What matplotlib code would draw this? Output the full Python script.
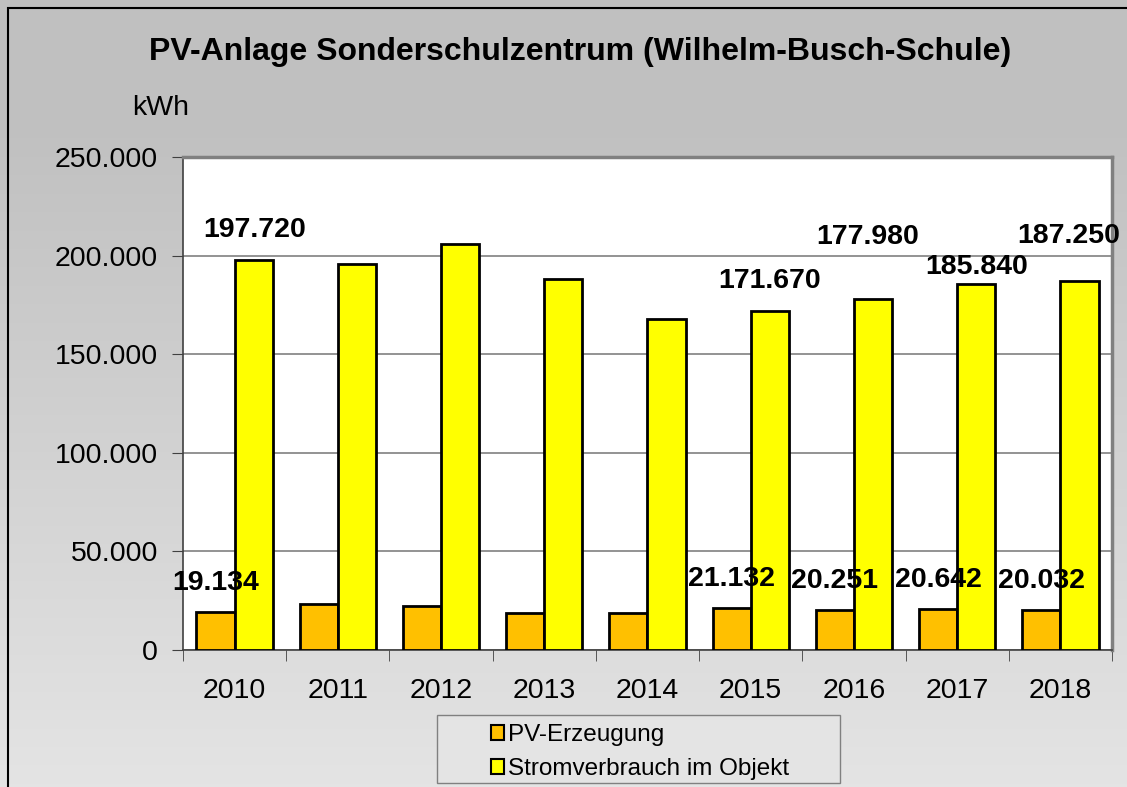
import matplotlib.pyplot as plt
import numpy as np
from matplotlib.patches import Rectangle

plt.rcParams['font.family'] = ['Liberation Sans', 'DejaVu Sans']

years = ['2010', '2011', '2012', '2013', '2014', '2015', '2016', '2017', '2018']
pv = [19134, 23300, 22400, 18600, 19000, 21132, 20251, 20642, 20032]
strom = [197720, 195500, 206000, 188000, 168000, 171670, 177980, 185840, 187250]
pv_labels = ['19.134', None, None, None, None, '21.132', '20.251', '20.642', '20.032']
strom_labels = ['197.720', None, None, None, None, '171.670', '177.980', '185.840', '187.250']
# label offsets in pixels (Excel put them a bit wherever)
strom_off = [(1, 30), None, None, None, None, (0, 30), (-5, 62), (0, 17), (-11, 45)]

W, H = 1127, 787
fig = plt.figure(figsize=(W / 100, H / 100), dpi=100)

# gradient background
bg = fig.add_axes([0, 0, 1, 1], zorder=-10)
grad = np.linspace(0, 1, 256)
grad = np.clip((grad - 0.15) / 0.85, 0, 1)
vals = 0xc0 + (0xe4 - 0xc0) * grad
img = np.dstack([vals, vals, vals]) / 255.0
img = img.reshape(256, 1, 3)
bg.imshow(img, aspect='auto', extent=[0, 1, 0, 1])
bg.add_patch(Rectangle((8 / W, -0.1), 1.2, 1 - 8 / H + 0.1, fill=False,
                       edgecolor='black', linewidth=1.5, transform=bg.transAxes))
# legend box
bg.add_patch(Rectangle((437 / W, 1 - 783 / H), (840 - 437) / W, (783 - 715) / H,
                       facecolor='#e4e4e4', edgecolor='#808080', linewidth=1.0,
                       transform=bg.transAxes))
bg.set_xlim(0, 1)
bg.set_ylim(0, 1)
bg.axis('off')

ax = fig.add_axes([183 / W, 1 - 650 / H, (1112 - 183) / W, (650 - 157) / H])
ax.set_facecolor('white')

x = np.arange(len(years))
w = 0.37
b1 = ax.bar(x - w / 2, pv, w, color='#FFC000', edgecolor='black', linewidth=2,
            label='PV-Erzeugung', zorder=3)
b2 = ax.bar(x + w / 2, strom, w, color='#FFFF00', edgecolor='black', linewidth=2,
            label='Stromverbrauch im Objekt', zorder=3)

for i in range(len(years)):
    if pv_labels[i]:
        ax.annotate(pv_labels[i], (x[i] - w / 2, pv[i]), xytext=(0, 29),
                    textcoords='offset pixels', ha='center', va='center',
                    fontsize=20.5, fontweight='bold', zorder=5)
    if strom_labels[i]:
        ax.annotate(strom_labels[i], (x[i] + w / 2, strom[i]), xytext=strom_off[i],
                    textcoords='offset pixels', ha='center', va='center',
                    fontsize=20.5, fontweight='bold', zorder=5)

ax.set_xlim(-0.5, len(years) - 0.5)
ax.set_ylim(0, 250000)
ax.set_yticks(np.arange(0, 250001, 50000))
ax.set_yticklabels(['0' if v == 0 else f'{v // 1000}.000' for v in range(0, 250001, 50000)],
                   fontsize=20.5)
ax.set_xticks(x)
ax.set_xticklabels(years, fontsize=20.5)
ax.set_xticks(np.arange(-0.5, len(years)), minor=True)
ax.tick_params(axis='x', which='major', length=0, pad=20)
ax.tick_params(axis='x', which='minor', length=8, color='#404040', direction='out')
ax.tick_params(axis='y', length=8, color='#404040', direction='out', pad=10)
ax.grid(axis='y', color='#808080', linewidth=1.2, zorder=0)
ax.set_axisbelow(True)
for s in ['left', 'bottom']:
    ax.spines[s].set_color('#404040')
    ax.spines[s].set_linewidth(1.2)
for s in ['top', 'right']:
    ax.spines[s].set_color('#808080')
    ax.spines[s].set_linewidth(2.5)

fig.text(580 / W, 1 - 52 / H, 'PV-Anlage Sonderschulzentrum (Wilhelm-Busch-Schule)',
         ha='center', va='center', fontsize=23, fontweight='bold')
fig.text(161 / W, 1 - 108 / H, 'kWh', ha='center', va='center', fontsize=20.5)

leg = fig.legend(handles=[b1, b2], loc='center left',
                 bbox_to_anchor=(491 / W, 1 - 752 / H),
                 fontsize=17.5, frameon=False,
                 handlelength=0.55, handleheight=0.55, handletextpad=0.15,
                 labelspacing=0.5, borderpad=0, borderaxespad=0)
for h in leg.legend_handles:
    h.set_linewidth(1.5)

fig.savefig('out.png', dpi=100)
